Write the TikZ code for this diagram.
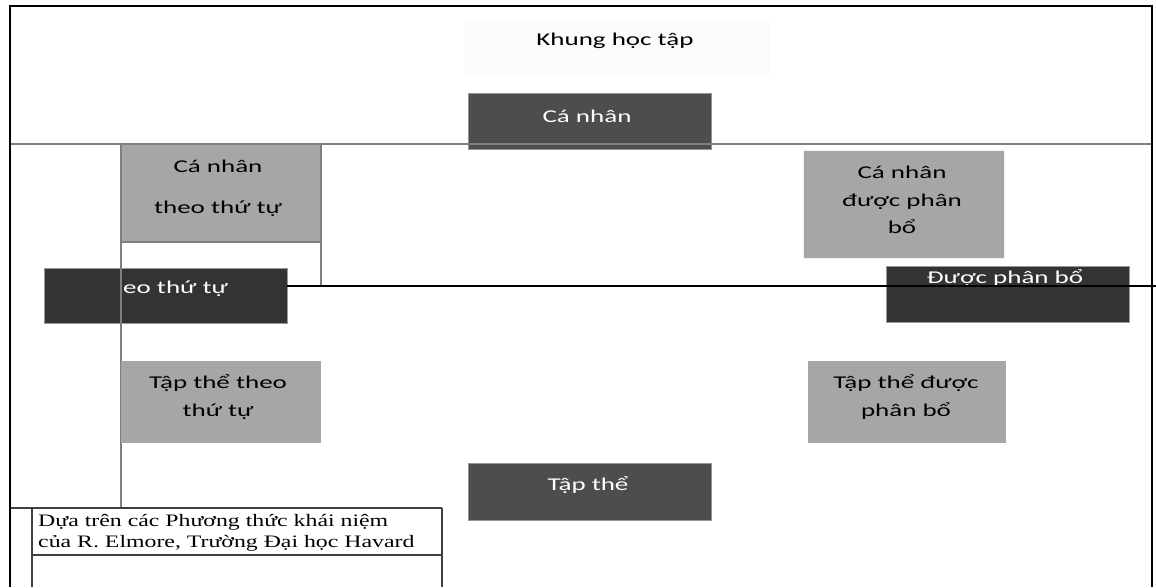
\documentclass[tikz,border=0pt]{standalone}
\usepackage{fontspec}
\setmainfont{Carlito}[FakeStretch=1.5]
\newfontfamily\serifvn{Liberation Serif}[FakeStretch=1.36]
\definecolor{boxdark}{HTML}{4D4D4D}
\definecolor{boxdarker}{HTML}{333333}
\definecolor{boxgray}{HTML}{A6A6A6}
\definecolor{linegray}{HTML}{7F7F7F}
\definecolor{edgegray}{HTML}{404040}
\definecolor{offwhite}{HTML}{FCFCFC}
\begin{document}
\begin{tikzpicture}[x=1pt,y=-1pt,
  boxbase/.style={anchor=north west, inner sep=0pt, outer sep=0pt},
  darkbox/.style={boxbase, fill=boxdark, draw=boxdark!60!white, line width=0.6pt},
  darkerbox/.style={boxbase, fill=boxdarker, draw=boxdarker!50!white, line width=0.6pt},
  graybox/.style={boxbase, fill=boxgray, draw=white!85!boxgray, line width=0.8pt},
  titlebox/.style={boxbase, fill=offwhite, draw=none},
  wtxt/.style={text=white, inner sep=0pt, font=\fontsize{18}{27.5}\selectfont, align=center},
  btxt/.style={text=black, inner sep=0pt, font=\fontsize{18}{27.5}\selectfont, align=center},
  frameline/.style={black, line width=2pt},
  grayline/.style={linegray, line width=1.5pt},
  blackline/.style={black, line width=1.6pt},
  noteline/.style={edgegray, line width=2pt}
]
\useasboundingbox (0,0) rectangle (1156,587);
\fill[white] (0,0) rectangle (1156,587);

% title
\node[titlebox, minimum width=305pt, minimum height=56pt] (khungbox) at (465,18) {};
\node[btxt] (khung) at (615,41) {Khung học tập};

% individual ordered (gray box with outline)
\node[boxbase, fill=boxgray, draw=linegray, line width=1.5pt, minimum width=200pt, minimum height=98pt] (cntt) at (121,144) {};
\node[btxt] (cntt1) at (218,166) {Cá nhân};
\node[btxt] (cntt2) at (218,209) {theo thứ tự};
\coordinate (cnttR) at (321,286);
\draw[grayline] (cntt.north east) -- (cnttR);

% individual (top dark box)
\node[darkbox, minimum width=243pt, minimum height=56pt] (canhan) at (468,93) {};
\node[wtxt] (canhanT) at (587,116) {Cá nhân};

% horizontal gray axis
\coordinate (hL) at (10,144);
\coordinate (hR) at (1152,144);
\draw[grayline] (hL) -- (hR);

% individual allocated
\node[graybox, minimum width=201pt, minimum height=108pt] (cnpb) at (803,150) {};
\node[btxt] (cnpbT) at (902,200) {Cá nhân\\được phân\\bổ};

% allocated (right dark box)
\node[darkerbox, minimum width=243pt, minimum height=56pt] (duocpb) at (886,266) {};
\node[wtxt] (duocpbT) at (1005,278) {Được phân bổ};

% ordered (left dark box)
\node[darkerbox, minimum width=243pt, minimum height=55pt] (theott) at (44,268) {};
\node[wtxt, anchor=west] (theottT) at (123,289) {eo thứ tự};

% black horizontal axis
\coordinate (axL) at (287,286);
\coordinate (axR) at (1156,286);
\draw[blackline] (axL) -- (axR);

% vertical gray line
\coordinate (vB) at (121,508);
\draw[grayline] (cntt.north west) -- (vB);

% collective ordered
\node[graybox, minimum width=200pt, minimum height=82pt, draw=none] (tttt) at (121,361) {};
\node[btxt] (ttttT) at (218,397) {Tập thể theo\\thứ tự};

% collective allocated
\node[graybox, minimum width=198pt, minimum height=82pt, draw=none] (ttpb) at (808,361) {};
\node[btxt] (ttpbT) at (906,397) {Tập thể được\\phân bổ};

% collective (bottom dark box)
\node[darkbox, minimum width=243pt, minimum height=57pt] (tapthe) at (468,463) {};
\node[wtxt] (taptheT) at (588,485) {Tập thể};

% note box
\coordinate (nTL) at (10,508);
\coordinate (nTR) at (442,508);
\coordinate (nIL) at (32,508);
\coordinate (nIB) at (32,587);
\coordinate (nML) at (32,555);
\coordinate (nMR) at (442,555);
\coordinate (nRB) at (442,587);
\draw[noteline] (nTL) -- (nTR);
\draw[noteline] (nIL) -- (nIB);
\draw[noteline] (nML) -- (nMR);
\draw[noteline] (nTR) -- (nRB);
\node[text=black, inner sep=0pt, anchor=north west, align=left, font=\serifvn\fontsize{17.5}{21}\selectfont] (note) at (38,514) {Dựa trên các Phương thức khái niệm\\của R. Elmore, Trường Đại học Havard};

% frame
\coordinate (fTL) at (10,6);
\coordinate (fTR) at (1152,6);
\coordinate (fBL) at (10,587);
\coordinate (fBR) at (1152,587);
\draw[frameline] (fBL) -- (fTL) -- (fTR) -- (fBR);
\end{tikzpicture}
\end{document}
